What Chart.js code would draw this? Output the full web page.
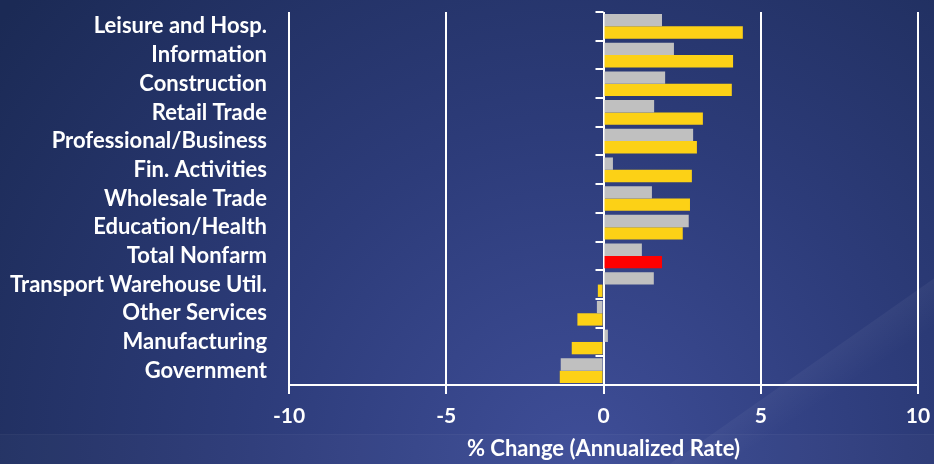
<!DOCTYPE html>
<html>
<head>
<meta charset="utf-8">
<title>Job growth by sector</title>
<script src="https://cdn.jsdelivr.net/npm/chart.js@4.4.1/dist/chart.umd.min.js"></script>
<style>
  html, body { margin: 0; padding: 0; background: #1c2b58; }
  canvas { display: block; }
</style>
</head>
<body>
<canvas id="sectorChart" width="934" height="464"></canvas>
<script>
// annualized % change in payrolls by sector
const sectors = [
    'Leisure and Hosp.', 'Information', 'Construction', 'Retail Trade',
    'Professional/Business', 'Fin. Activities', 'Wholesale Trade',
    'Education/Health', 'Total Nonfarm', 'Transport Warehouse Util.',
    'Other Services', 'Manufacturing', 'Government'
];
const earlierRates = [1.86, 2.24, 1.96, 1.61, 2.85, 0.30, 1.54, 2.71, 1.22, 1.60, -0.21, 0.14, -1.36];
const recentRates  = [4.43, 4.12, 4.08, 3.16, 2.97, 2.81, 2.75, 2.52, 1.86, -0.18, -0.83, -1.01, -1.39];
const xTicks = [-10, -5, 0, 5, 10];
const totalRow = 'Total Nonfarm';

const GRAY = '#c0c0c0';
const GOLD = '#fcd116';
const RED = '#ff0000';

Chart.defaults.font.family = 'Lato, "Liberation Sans", sans-serif';
Chart.defaults.font.weight = 'bold';
Chart.defaults.color = '#ffffff';

// blue slide background with the light diagonal streak
const backdrop = {
    id: 'backdrop',
    beforeDraw(chart) {
        const { ctx, width, height } = chart;
        ctx.save();
        const g = ctx.createRadialGradient(width * 0.62, height, 0, width * 0.62, height, width * 0.78);
        g.addColorStop(0, '#3f4e98');
        g.addColorStop(0.45, '#2d3c7a');
        g.addColorStop(1, '#1b2a55');
        ctx.fillStyle = g;
        ctx.fillRect(0, 0, width, height);

        // streak
        const sx = width * 0.717, sy = height;
        const ex = width, ey = height * 0.6;
        const lg = ctx.createLinearGradient(sx + 20, sy - 60, sx + 60, sy);
        lg.addColorStop(0, 'rgba(255,255,255,0.08)');
        lg.addColorStop(1, 'rgba(255,255,255,0.0)');
        ctx.beginPath();
        ctx.moveTo(sx, sy);
        ctx.lineTo(ex, ey);
        ctx.lineTo(ex, height);
        ctx.closePath();
        ctx.fillStyle = lg;
        ctx.fill();

        // bottom band
        ctx.fillStyle = 'rgba(255,255,255,0.02)';
        ctx.fillRect(0, height - 29, width, 29);
        ctx.fillStyle = 'rgba(255,255,255,0.05)';
        ctx.fillRect(0, height - 30, width, 1);
        ctx.restore();
    }
};

// short tick marks on the zero line between categories
const zeroTicks = {
    id: 'zeroTicks',
    afterDraw(chart) {
        const { ctx } = chart;
        const x0 = chart.scales.x.getPixelForValue(0);
        const yScale = chart.scales.y;
        ctx.save();
        ctx.strokeStyle = '#ffffff';
        ctx.lineWidth = 2;
        for (let i = 0; i < sectors.length; i++) {
            const y = Math.round(yScale.getPixelForValue(i - 0.5));
            ctx.beginPath();
            ctx.moveTo(x0 - 8, y);
            ctx.lineTo(x0, y);
            ctx.stroke();
        }
        ctx.restore();
    }
};

const ctx = document.getElementById('sectorChart').getContext('2d');
const sectorChart = new Chart(ctx, {
    type: 'bar',
    data: {
        labels: sectors,
        datasets: [{
            label: 'Earlier',
            data: earlierRates,
            backgroundColor: GRAY,
            categoryPercentage: 0.86,
            barPercentage: 1.0
        }, {
            label: 'Recent',
            data: recentRates,
            backgroundColor: sectors.map(s => s === totalRow ? RED : GOLD),
            categoryPercentage: 0.86,
            barPercentage: 1.0
        }]
    },
    options: {
        indexAxis: 'y',
        responsive: false,
        animation: false,
        layout: { padding: { top: 12, right: 16, left: 0, bottom: 0 } },
        plugins: {
            legend: { display: false },
            tooltip: { enabled: true }
        },
        scales: {
            x: {
                min: -10,
                max: 10,
                afterBuildTicks: scale => {
                    scale.ticks = xTicks.map(v => ({ value: v }));
                },
                afterFit: scale => {
                    scale.height = 79;
                    scale.paddingLeft = 0;
                    scale.paddingRight = 0;
                },
                grid: {
                    color: '#ffffff',
                    lineWidth: 2,
                    tickLength: 9
                },
                border: { color: '#ffffff', width: 2 },
                ticks: {
                    color: '#ffffff',
                    padding: 10,
                    font: { size: 21, weight: 'bold' }
                },
                title: {
                    display: true,
                    text: '% Change (Annualized Rate)',
                    color: '#ffffff',
                    padding: { top: 0, bottom: 2 },
                    font: { size: 22, weight: 'bold' }
                }
            },
            y: {
                afterFit: scale => {
                    scale.width = 289;
                    scale.paddingTop = 0;
                    scale.paddingBottom = 0;
                },
                grid: { display: false, drawTicks: false },
                border: { display: false },
                ticks: {
                    color: '#ffffff',
                    padding: 22,
                    autoSkip: false,
                    font: { size: 22, weight: 'bold' }
                }
            }
        }
    },
    plugins: [backdrop, zeroTicks]
});
</script>
</body>
</html>
